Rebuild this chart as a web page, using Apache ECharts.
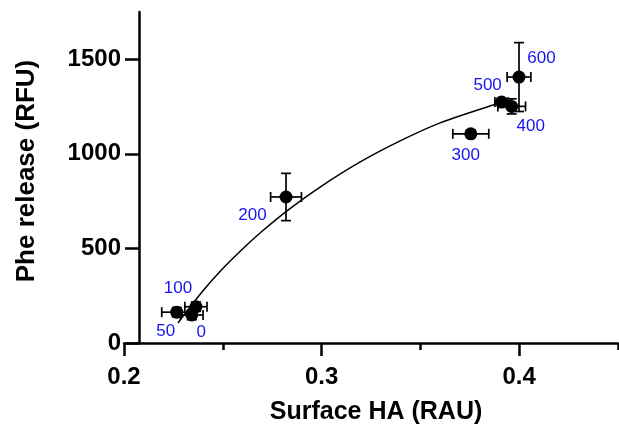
<!DOCTYPE html>
<html>
<head>
<meta charset="utf-8">
<script src="https://cdn.jsdelivr.net/npm/echarts@6/dist/echarts.min.js"></script>
<style>html,body{margin:0;padding:0;background:#fff}#c{width:619px;height:430px}</style>
</head>
<body>
<div id="c"></div>
<script>
// Data
const concLabels = ['0', '50', '100', '200', '300', '400', '500', '600'];
const surfaceHA = [0.2343, 0.2267, 0.2364, 0.2820, 0.3755, 0.3962, 0.3911, 0.3999];
const pheRelease = [148, 163, 192, 772, 1106, 1251, 1274, 1406];
const haErr = [0.0057, 0.0076, 0.0056, 0.0078, 0.0091, 0.0070, 0.0034, 0.0060];
const pheErr = [25, 25, 25, 125, 20, 40, 20, 182];
const curveHA = [0.2273, 0.2400, 0.2494, 0.2600, 0.2700, 0.2830, 0.3000, 0.3200, 0.3400, 0.3600, 0.3877, 0.3960];
const curvePhe = [106, 276, 387, 497, 592, 703, 830, 960, 1070, 1164, 1261, 1285];
const xTickLabels = ['0.2', '0.3', '0.4'];
const yTickLabels = ['0', '500', '1000', '1500'];

// label placement (pixel offsets from the point centre) - styling only
const labelOffsets = [[9.5, 17.5], [-11, 19], [-18, -18], [-33.5, 18], [-5, 22], [19, 20], [-14, -17], [22.5, -19]];

const FONT = 'Liberation Sans, Arial, sans-serif';
const chart = echarts.init(document.getElementById('c'), null, {renderer: 'canvas'});

const points = surfaceHA.map((x, i) => ({
  value: [x, pheRelease[i]],
  label: {offset: labelOffsets[i]}
}));
const errData = surfaceHA.map((x, i) => [x, pheRelease[i], haErr[i], pheErr[i]]);
const curveData = curveHA.map((x, i) => [x, curvePhe[i]]);

const option = {
  animation: false,
  grid: {left: 124, right: 1, top: 12, bottom: 87, containLabel: false},
  xAxis: [{
    type: 'value', min: 0.2, max: 0.45, interval: 0.05,
    name: 'Surface HA (RAU)', nameLocation: 'middle', nameGap: 57,
    nameTextStyle: {fontFamily: FONT, fontWeight: 'bold', fontSize: 25, color: '#000', padding: [0, 0, 0, 10]},
    axisLine: {show: true, lineStyle: {color: '#000', width: 2.5}},
    axisTick: {show: true, length: 7, lineStyle: {color: '#000', width: 2.5}},
    axisLabel: {
      show: true, margin: 22, fontFamily: FONT, fontWeight: 'bold', fontSize: 24, color: '#000',
      customValues: xTickLabels.map(Number),
      formatter: v => { const s = v.toFixed(1); return xTickLabels.indexOf(s) >= 0 ? s : ''; }
    },
    splitLine: {show: false}
  }, {
    type: 'value', min: 0.2, max: 0.45, position: 'bottom',
    axisLine: {show: false},
    axisTick: {show: true, length: 13, customValues: xTickLabels.map(Number), lineStyle: {color: '#000', width: 2.5}},
    axisLabel: {show: false},
    splitLine: {show: false}
  }],
  yAxis: {
    type: 'value', min: 0, max: 1750, offset: -15,
    name: 'Phe release (RFU)', nameLocation: 'middle', nameGap: 99, nameRotate: 90,
    nameTextStyle: {fontFamily: FONT, fontWeight: 'bold', fontSize: 26, color: '#000', padding: [0, 0, 0, 13]},
    axisLine: {show: true, lineStyle: {color: '#000', width: 2.5}},
    axisTick: {show: true, length: 14, customValues: yTickLabels.map(Number), lineStyle: {color: '#000', width: 2.5}},
    axisLabel: {
      show: true, margin: 18, fontFamily: FONT, fontWeight: 'bold', fontSize: 24, color: '#000',
      customValues: yTickLabels.map(Number),
      formatter: v => String(v)
    },
    splitLine: {show: false}
  },
  series: [{
    type: 'line', data: curveData, smooth: 0.3, symbol: 'none',
    lineStyle: {color: '#000', width: 1.5}, z: 2
  }, {
    type: 'custom', data: errData, z: 3,
    renderItem: (params, api) => {
      const x = api.value(0), y = api.value(1), ex = api.value(2), ey = api.value(3);
      const l = api.coord([x - ex, y]), r = api.coord([x + ex, y]);
      const t = api.coord([x, y + ey]), b = api.coord([x, y - ey]);
      const cap = 5;
      const st = {stroke: '#000', lineWidth: 1.7};
      const ln = (x1, y1, x2, y2) => ({type: 'line', shape: {x1, y1, x2, y2}, style: st});
      return {type: 'group', children: [
        ln(l[0], l[1], r[0], r[1]),
        ln(l[0], l[1] - cap, l[0], l[1] + cap),
        ln(r[0], r[1] - cap, r[0], r[1] + cap),
        ln(t[0], t[1], b[0], b[1]),
        ln(t[0] - cap, t[1], t[0] + cap, t[1]),
        ln(b[0] - cap, b[1], b[0] + cap, b[1])
      ]};
    }
  }, {
    type: 'scatter', data: points, symbol: 'circle', symbolSize: 13, z: 4,
    itemStyle: {color: '#000', opacity: 1},
    label: {
      show: true, position: 'inside', align: 'center', verticalAlign: 'middle',
      fontFamily: FONT, fontSize: 17, color: '#1515f0',
      formatter: p => concLabels[p.dataIndex]
    }
  }]
};
chart.setOption(option);
</script>
</body>
</html>
